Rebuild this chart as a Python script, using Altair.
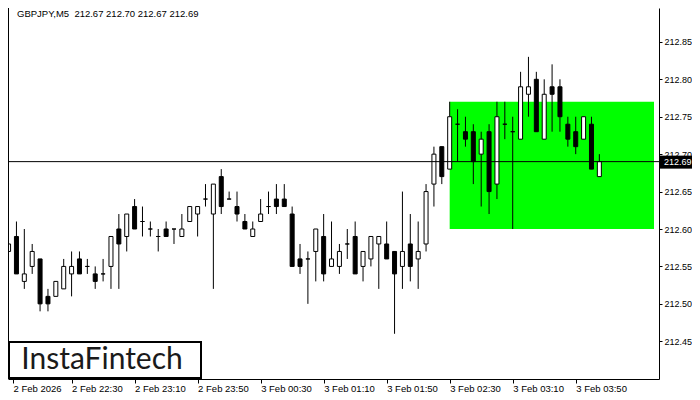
import json
import altair as alt
import pandas as pd

# ---------------- data ----------------
symbol = "GBPJPY,M5"
opens = [212.57, 212.59, 212.53, 212.55, 212.56, 212.51, 212.51, 212.52, 212.54, 212.56,
         212.55, 212.54, 212.54, 212.55, 212.60, 212.59, 212.63, 212.61, 212.60, 212.59,
         212.60, 212.60, 212.59, 212.61, 212.62, 212.64, 212.62, 212.67, 212.64, 212.63,
         212.61, 212.59, 212.61, 212.63, 212.64, 212.64, 212.62, 212.56, 212.56, 212.57,
         212.59, 212.55, 212.55, 212.58, 212.59, 212.55, 212.56, 212.58, 212.58, 212.57,
         212.55, 212.58, 212.56, 212.58, 212.66, 212.71, 212.68, 212.74, 212.73, 212.73,
         212.70, 212.73, 212.66, 212.74, 212.73, 212.72, 212.78, 212.80, 212.72, 212.79,
         212.79, 212.74, 212.73, 212.72, 212.74, 212.67]
highs = [212.58, 212.61, 212.60, 212.58, 212.56, 212.52, 212.53, 212.56, 212.57, 212.57,
         212.56, 212.55, 212.56, 212.59, 212.62, 212.62, 212.64, 212.63, 212.61, 212.60,
         212.61, 212.60, 212.62, 212.63, 212.63, 212.66, 212.66, 212.68, 212.65, 212.65,
         212.62, 212.61, 212.64, 212.65, 212.66, 212.66, 212.63, 212.58, 212.57, 212.60,
         212.62, 212.61, 212.58, 212.60, 212.61, 212.57, 212.59, 212.59, 212.61, 212.57,
         212.65, 212.62, 212.61, 212.66, 212.71, 212.71, 212.77, 212.76, 212.75, 212.74,
         212.73, 212.74, 212.77, 212.77, 212.75, 212.81, 212.83, 212.81, 212.80, 212.82,
         212.80, 212.75, 212.75, 212.75, 212.75, 212.70]
lows = [212.57, 212.54, 212.52, 212.54, 212.49, 212.49, 212.51, 212.52, 212.51, 212.54,
        212.54, 212.52, 212.53, 212.52, 212.52, 212.57, 212.60, 212.59, 212.59, 212.57,
        212.59, 212.58, 212.59, 212.61, 212.59, 212.63, 212.52, 212.62, 212.64, 212.61,
        212.60, 212.59, 212.61, 212.62, 212.62, 212.63, 212.55, 212.54, 212.50, 212.53,
        212.53, 212.55, 212.54, 212.56, 212.54, 212.53, 212.55, 212.52, 212.56, 212.46,
        212.52, 212.53, 212.52, 212.57, 212.63, 212.66, 212.68, 212.69, 212.71, 212.66,
        212.63, 212.62, 212.64, 212.72, 212.60, 212.72, 212.75, 212.73, 212.72, 212.73,
        212.73, 212.71, 212.70, 212.72, 212.68, 212.67]
closes = [212.58, 212.54, 212.54, 212.57, 212.50, 212.50, 212.53, 212.55, 212.55, 212.54,
          212.55, 212.53, 212.54, 212.59, 212.58, 212.62, 212.60, 212.61, 212.60, 212.59,
          212.59, 212.60, 212.60, 212.63, 212.63, 212.64, 212.66, 212.63, 212.64, 212.62,
          212.60, 212.60, 212.62, 212.63, 212.63, 212.63, 212.55, 212.55, 212.56, 212.60,
          212.54, 212.56, 212.57, 212.58, 212.54, 212.57, 212.59, 212.59, 212.56, 212.54,
          212.57, 212.55, 212.57, 212.65, 212.70, 212.67, 212.75, 212.74, 212.72, 212.69,
          212.72, 212.65, 212.75, 212.74, 212.73, 212.79, 212.79, 212.73, 212.78, 212.78,
          212.75, 212.72, 212.71, 212.75, 212.68, 212.69]

x_labels = ["2 Feb 2026", "2 Feb 22:30", "2 Feb 23:10", "2 Feb 23:50", "3 Feb 00:30",
            "3 Feb 01:10", "3 Feb 01:50", "3 Feb 02:30", "3 Feb 03:10", "3 Feb 03:50"]
bars_per_label = 8
y_ticks = [212.45, 212.50, 212.55, 212.60, 212.65, 212.70, 212.75, 212.80, 212.85]

zone_start_bar = 56
zone_low = 212.60
zone_high = 212.77
brand = "InstaFintech"

# ---------------- layout ----------------
PLOT_W, PLOT_H = 651, 371
PAD_R, PAD_B = 33, 13
PX_PER_BAR = 8
FIRST_BAR_X = -4.5          # pixel x of bar 0 inside plot
X_MIN = (0 - FIRST_BAR_X) / PX_PER_BAR
X_MAX = (PLOT_W - FIRST_BAR_X) / PX_PER_BAR
PX_PER_UNIT = 748.5
REF_PRICE, REF_Y = 212.60, 221.0
Y_MAX = REF_PRICE + REF_Y / PX_PER_UNIT
Y_MIN = REF_PRICE - (PLOT_H - REF_Y) / PX_PER_UNIT
FONT = "Liberation Sans"
FS = 9.5
FS_Y = 9

n = len(opens)
df = pd.DataFrame({
    "k": list(range(n)), "o": opens, "h": highs, "l": lows, "c": closes,
    "dir": ["up" if c >= o else "down" for o, c in zip(opens, closes)],
})
last = df.iloc[-1]
zone = pd.DataFrame({"x1": [zone_start_bar], "x2": [X_MAX], "y1": [zone_low], "y2": [zone_high]})
price = pd.DataFrame({"p": [last["c"]], "t": [f"{last['c']:.2f}"]})
title_df = pd.DataFrame({"t": [f"{symbol}\u00a0 {last['o']:.2f} {last['h']:.2f} {last['l']:.2f} {last['c']:.2f}"]})
brand_df = pd.DataFrame({"t": [brand]})

xscale = alt.Scale(domain=[X_MIN, X_MAX], zero=False, nice=False)
yscale = alt.Scale(domain=[Y_MIN, Y_MAX], zero=False, nice=False)

label_expr = json.dumps(x_labels) + f"[round(datum.value/{bars_per_label})]"
xaxis = alt.Axis(values=[X_MIN] + [bars_per_label * i for i in range(1, len(x_labels))],
                 labelExpr=label_expr, labelAlign="left", labelFlush=False, labelOverlap=False,
                 tickSize=4, labelPadding=0, grid=False, title=None,
                 domainColor="black", tickColor="black", labelColor="black",
                 labelFont=FONT, labelFontSize=FS)
yaxis = alt.Axis(orient="right", values=y_ticks, format=".2f", tickSize=3, labelPadding=2,
                 grid=False, title=None, domainColor="black", tickColor="black",
                 labelColor="black", labelFont=FONT, labelFontSize=FS_Y)

def X(f):
    return alt.X(f, type="quantitative", scale=xscale, axis=xaxis)

def Y(f):
    return alt.Y(f, type="quantitative", scale=yscale, axis=yaxis)

zone_layer = alt.Chart(zone).mark_rect(color="#00ff00", clip=True).encode(
    x=X("x1"), x2="x2", y=Y("y1"), y2="y2")

wicks = alt.Chart(df).mark_rule(color="black", strokeWidth=1, clip=True).encode(
    x=X("k"), y=Y("l"), y2="h")

bodies = alt.Chart(df).mark_bar(size=4, stroke="black", strokeWidth=1, clip=True).encode(
    x=X("k"), y=Y("o"), y2="c",
    fill=alt.Fill("dir:N", scale=alt.Scale(domain=["up", "down"], range=["white", "black"]), legend=None))

price_line = alt.Chart(price).mark_rule(color="black", strokeWidth=1).encode(y=Y("p"))

left_frame = alt.Chart(price).mark_rule(color="black", strokeWidth=1).encode(
    x=alt.value(0.5), y=alt.value(0), y2=alt.value(PLOT_H))

price_box = alt.Chart(price).mark_rect(color="black", yOffset=-6, y2Offset=7).encode(
    x=alt.value(PLOT_W + 1), x2=alt.value(PLOT_W + PAD_R), y=Y("p"), y2="p")
price_text = alt.Chart(price).mark_text(color="white", font=FONT, fontSize=FS_Y, align="left",
                                        baseline="middle", dy=0.5).encode(
    x=alt.value(PLOT_W + 5), y=Y("p"), text="t:N")

title_text = alt.Chart(title_df).mark_text(color="black", font=FONT, fontSize=FS, align="left",
                                           baseline="middle").encode(
    x=alt.value(9), y=alt.value(6), text="t:N")

brand_box = alt.Chart(brand_df).mark_rect(fill="white", stroke="black", strokeWidth=2).encode(
    x=alt.value(1), x2=alt.value(193), y=alt.value(334), y2=alt.value(370))
brand_text = alt.Chart(brand_df).mark_text(color="#1a1a1a", font="Lato", fontSize=30,
                                           align="center", baseline="middle").encode(
    x=alt.value(94), y=alt.value(352), text="t:N")

chart = alt.layer(
    zone_layer, wicks, bodies, price_line, left_frame, price_box, price_text,
    title_text, brand_box, brand_text
).properties(
    width=PLOT_W, height=PLOT_H, background="white",
    autosize=alt.AutoSizeParams(type="none"),
    padding={"left": 0, "top": 0, "right": PAD_R, "bottom": PAD_B},
).configure_view(stroke=None)

chart.save("out.html", embed_options={"renderer": "svg", "actions": False})
